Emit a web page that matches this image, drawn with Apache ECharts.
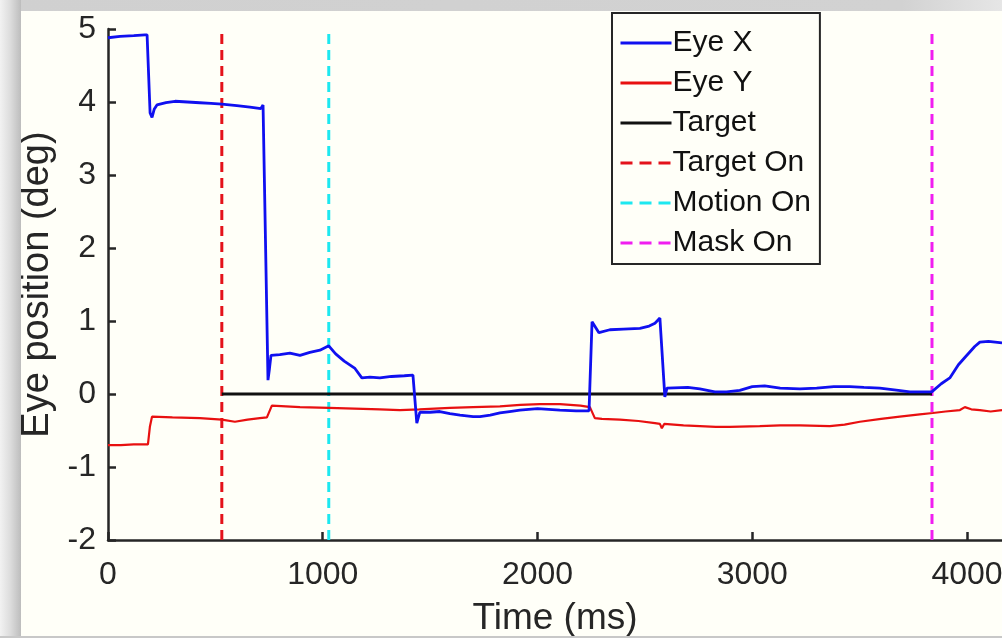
<!DOCTYPE html>
<html>
<head>
<meta charset="utf-8">
<script src="https://cdn.jsdelivr.net/npm/echarts@6/dist/echarts.min.js"></script>
<style>
html,body{margin:0;padding:0;background:#fffff8;overflow:hidden;}
#chart{width:1002px;height:638px;}
</style>
</head>
<body>
<div id="chart"></div>
<script>
// ---- data ----
var eyeXTimes = [0,56,120,172,182,196,205,215,228,270,312,370,428,480,530,600,661,712,722,745,752,759,800,847,894,940,987,1028,1060,1100,1150,1182,1220,1266,1320,1380,1420,1438,1452,1500,1545,1592,1639,1700,1732,1780,1825,1870,1918,2000,2104,2180,2240,2254,2262,2286,2337,2400,2477,2520,2547,2570,2593,2603,2612,2700,2756,2826,2880,2942,3000,3058,3130,3222,3300,3380,3454,3520,3594,3680,3734,3800,3836,3880,3920,3960,3990,4036,4060,4100,4163];
var eyeXValues = [4.88,4.90,4.91,4.92,4.92,3.85,3.79,3.90,3.96,3.99,4.01,4.00,3.99,3.98,3.97,3.95,3.93,3.91,3.96,0.19,0.35,0.53,0.54,0.56,0.53,0.57,0.60,0.66,0.55,0.45,0.35,0.22,0.23,0.22,0.24,0.25,0.26,-0.40,-0.25,-0.25,-0.24,-0.27,-0.29,-0.31,-0.31,-0.29,-0.26,-0.24,-0.22,-0.20,-0.22,-0.23,-0.23,0.99,0.97,0.84,0.88,0.89,0.90,0.93,0.97,1.04,-0.04,0.08,0.10,0.09,0.07,0.03,0.03,0.05,0.10,0.11,0.08,0.07,0.08,0.10,0.10,0.09,0.08,0.05,0.03,0.03,0.03,0.14,0.22,0.40,0.50,0.65,0.71,0.72,0.70];
var eyeYTimes = [0,60,120,186,195,205,300,428,530,591,650,707,740,763,894,1028,1266,1359,1450,1592,1700,1825,1920,2011,2104,2200,2244,2267,2300,2384,2470,2547,2570,2579,2590,2598,2680,2756,2830,2896,3035,3130,3222,3361,3430,3501,3600,3687,3780,3841,3900,3967,3990,4020,4060,4110,4163];
var eyeYValues = [-0.70,-0.70,-0.69,-0.69,-0.45,-0.31,-0.32,-0.33,-0.35,-0.38,-0.35,-0.33,-0.32,-0.16,-0.18,-0.19,-0.21,-0.22,-0.21,-0.19,-0.18,-0.17,-0.15,-0.14,-0.14,-0.16,-0.18,-0.33,-0.34,-0.35,-0.37,-0.40,-0.41,-0.47,-0.41,-0.40,-0.43,-0.44,-0.45,-0.45,-0.44,-0.43,-0.43,-0.44,-0.42,-0.38,-0.34,-0.31,-0.28,-0.26,-0.24,-0.22,-0.18,-0.21,-0.22,-0.24,-0.22];
var targetTimes = [530, 3837];
var targetValues = [0, 0];
var targetOnTime = 530;
var motionOnTime = 1028;
var maskOnTime = 3837;
var yRange = [-2, 5];
var xMin = 0, xMax = 4163, xStep = 1000;
var seriesNames = ['Eye X','Eye Y','Target','Target On','Motion On','Mask On'];

function zip(a, b){ return a.map(function(v,i){ return [v, b[i]]; }); }
function vline(t){ return [[t, yRange[0]], [t, yRange[1]]]; }

var ink = '#262626';
var font = 'Liberation Sans';
var legendData = seriesNames.map(function(n, i){
  return {name: n, lineStyle: i < 3 ? {width: 3} : {width: 3, type: [12, 7]}};
});
var chart = echarts.init(document.getElementById('chart'), null, {renderer:'canvas', width: 1002, height: 638});
chart.setOption({
  animation: false,
  backgroundColor: '#fffff8',
  textStyle: {fontFamily: font},
  grid: {left: 108, top: 29, width: 894, height: 511, containLabel: false, outerBoundsMode: 'none'},
  xAxis: {
    type: 'value', min: xMin, max: xMax, interval: xStep,
    name: 'Time (ms)', nameLocation: 'middle', nameGap: 60,
    nameTextStyle: {color: ink, fontSize: 37, fontFamily: font},
    axisLine: {show: true, onZero: false, lineStyle: {color: ink, width: 2.5}},
    axisTick: {show: true, inside: true, length: 8, lineStyle: {color: ink, width: 2.5}},
    axisLabel: {color: ink, fontSize: 32, margin: 19, showMaxLabel: false, fontFamily: font,
      formatter: function(v){ return String(v); }},
    splitLine: {show: false}
  },
  yAxis: {
    type: 'value', min: yRange[0], max: yRange[1], interval: 1,
    name: 'Eye position (deg)', nameLocation: 'middle', nameGap: 50,
    nameTextStyle: {color: ink, fontSize: 38, fontFamily: font},
    axisLine: {show: true, onZero: false, lineStyle: {color: ink, width: 2.5}},
    axisTick: {show: true, inside: true, length: 8, lineStyle: {color: ink, width: 2.5}},
    axisLabel: {color: ink, fontSize: 32, margin: 12, fontFamily: font,
      formatter: function(v){ return String(v); }},
    splitLine: {show: false}
  },
  legend: {
    orient: 'vertical', left: 612, top: 13,
    data: legendData,
    itemWidth: 51, itemHeight: 14, itemGap: 10,
    padding: [15, 9, 6, 7],
    borderColor: ink, borderWidth: 2,
    backgroundColor: '#fffff8',
    itemStyle: {opacity: 0},
    textStyle: {color: '#111', fontSize: 30, lineHeight: 30, fontFamily: font, padding: [0,0,0,-4]}
  },
  series: [
    {name: 'Target On', type: 'line', data: vline(targetOnTime), symbol: 'none', lineStyle: {color: '#e4121b', width: 3, type: [10, 6]}, itemStyle: {color: '#e4121b'}, z: 1},
    {name: 'Motion On', type: 'line', data: vline(motionOnTime), symbol: 'none', lineStyle: {color: '#1de8f0', width: 3, type: [10, 6]}, itemStyle: {color: '#1de8f0'}, z: 1},
    {name: 'Mask On', type: 'line', data: vline(maskOnTime), symbol: 'none', lineStyle: {color: '#f01ef0', width: 3, type: [10, 6]}, itemStyle: {color: '#f01ef0'}, z: 1},
    {name: 'Target', type: 'line', data: zip(targetTimes, targetValues), symbol: 'none', lineStyle: {color: '#111', width: 3}, itemStyle: {color: '#111'}, z: 2},
    {name: 'Eye Y', type: 'line', data: zip(eyeYTimes, eyeYValues), symbol: 'none', lineStyle: {color: '#e81010', width: 2.2}, itemStyle: {color: '#e81010'}, z: 3},
    {name: 'Eye X', type: 'line', data: zip(eyeXTimes, eyeXValues), symbol: 'none', lineStyle: {color: '#1010f0', width: 2.8}, itemStyle: {color: '#1010f0'}, z: 4}
  ],
  graphic: [
    {type: 'rect', left: 0, top: 0, shape: {width: 1002, height: 11}, style: {fill: new echarts.graphic.LinearGradient(0,0,1,0,[{offset:0,color:'#d0d0d0'},{offset:0.9,color:'#d2d2d2'},{offset:1,color:'#e6e6e6'}])}, silent: true, z: 100},
    {type: 'rect', left: 0, top: 0, shape: {width: 21, height: 638}, style: {fill: new echarts.graphic.LinearGradient(0,0,1,0,[{offset:0,color:'#f2f2f2'},{offset:0.5,color:'#dcdcdc'},{offset:1,color:'#bdbdbd'}])}, silent: true, z: 100},
    {type: 'rect', left: 0, top: 636, shape: {width: 1002, height: 2}, style: {fill: '#c8c8c8'}, silent: true, z: 100}
  ]
});
</script>
</body>
</html>
